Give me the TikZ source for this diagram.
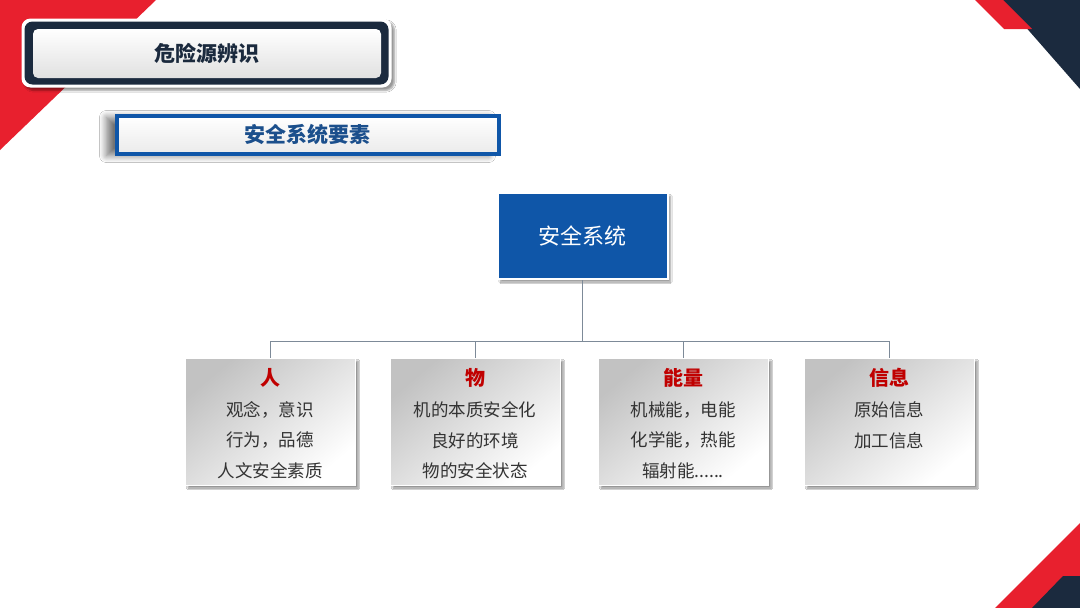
\documentclass[tikz,border=0pt]{standalone}
\usepackage{fontspec}
\newfontfamily\cjk{Noto Sans CJK SC}
\usetikzlibrary{shadows.blur,calc}
\definecolor{navy}{HTML}{1B2A3E}
\definecolor{redc}{HTML}{E8202E}
\definecolor{blueb}{HTML}{0F56A8}
\definecolor{bluet}{HTML}{1B4F8C}
\definecolor{titred}{HTML}{C00000}
\definecolor{txtgray}{HTML}{333333}
\definecolor{conncol}{HTML}{7D8A98}
\tikzset{
  elembox/.style={rectangle, minimum width=170pt, minimum height=127pt, inner sep=0pt,
    top color=black!24, bottom color=white, shading angle=40, draw=white, line width=0.8pt,
    blur shadow={shadow xshift=3pt, shadow yshift=-3pt, shadow blur steps=6, shadow opacity=45}},
  elemtitle/.style={font=\cjk\bfseries\fontsize{20}{20}\selectfont, text=titred, inner sep=0pt},
  elemline/.style={font=\cjk\fontsize{17.5}{18}\selectfont, text=txtgray, inner sep=0pt},
  conn/.style={draw=conncol, line width=0.9pt},
}
\begin{document}
\begin{tikzpicture}[x=1pt,y=-1pt]
\useasboundingbox (0,0) rectangle (1080,608);
\fill[white] (0,0) rectangle (1080,608);
% corner decorations
\fill[redc] (0,0) -- (156,0) -- (0,150) -- cycle;
\fill[navy] (1002,0) -- (1080,0) -- (1080,89) -- cycle;
\fill[redc] (975,0) -- (1003,0) -- (1032,29) -- (1004,29) -- cycle;
\fill[redc] (995,608) -- (1080,523) -- (1080,608) -- cycle;
\fill[navy] (1032,608) -- (1063,576) -- (1080,576) -- (1080,608) -- cycle;
% title box 1
\node[rectangle, rounded corners=9pt, fill=white, minimum width=370pt, minimum height=69pt,
  blur shadow={shadow xshift=3pt, shadow yshift=-3pt, shadow blur steps=6, shadow opacity=40}] (t1outer) at (206.5,53) {};
\node[rectangle, rounded corners=8pt, fill=navy, minimum width=364pt, minimum height=63pt] (t1frame) at (206.5,53) {};
\node[rectangle, rounded corners=5pt, top color=white, bottom color=black!12, minimum width=348pt, minimum height=49pt,
  font=\cjk\bfseries\fontsize{21}{21}\selectfont, text=navy] (t1) at (207,53.5) {危险源辨识};
% title box 2
\node[rectangle, draw=blueb, line width=4pt, top color=white, bottom color=black!8,
  minimum width=382pt, minimum height=38pt, font=\cjk\bfseries\fontsize{21}{21}\selectfont, text=bluet,
  blur shadow={shadow xshift=-10pt, shadow yshift=-2pt, shadow blur radius=7pt, shadow blur steps=12, shadow opacity=55}] (t2) at (307.5,134.5) {安全系统要素};
% central node
\node[rectangle, fill=blueb, draw=white, line width=2pt, minimum width=170pt, minimum height=86pt,
  font=\cjk\fontsize{22}{22}\selectfont, text=white,
  blur shadow={shadow xshift=3pt, shadow yshift=-3pt, shadow blur steps=6, shadow opacity=40}] (sys) at (582.5,236) {安全系统};
% element boxes
\node[elembox] (b1) at (270,421.5) {};
\node[elembox] (b2) at (475,421.5) {};
\node[elembox] (b3) at (683,421.5) {};
\node[elembox] (b4) at (889,421.5) {};
% connectors
\coordinate (bus) at (582.5,341);
\draw[conn] (sys.south) -- (bus);
\draw[conn] (bus) -| (b1.north);
\draw[conn] (bus) -| (b2.north);
\draw[conn] (bus) -| (b3.north);
\draw[conn] (bus) -| (b4.north);
% texts
\node[elemtitle] (h1) at (270,378) {人};
\node[elemline] (l11) at (270,410) {观念，意识};
\node[elemline] (l12) at (270,440.5) {行为，品德};
\node[elemline] (l13) at (270,471) {人文安全素质};
\node[elemtitle] (h2) at (475,378) {物};
\node[elemline] (l21) at (475,410) {机的本质安全化};
\node[elemline] (l22) at (475,440.5) {良好的环境};
\node[elemline] (l23) at (475,471) {物的安全状态};
\node[elemtitle] (h3) at (683,378) {能量};
\node[elemline] (l31) at (683,410) {机械能，电能};
\node[elemline] (l32) at (683,440.5) {化学能，热能};
\node[elemline] (l33) at (683,471) {辐射能......};
\node[elemtitle] (h4) at (889,378) {信息};
\node[elemline] (l41) at (889,410) {原始信息};
\node[elemline] (l42) at (889,440.5) {加工信息};
\end{tikzpicture}
\end{document}
